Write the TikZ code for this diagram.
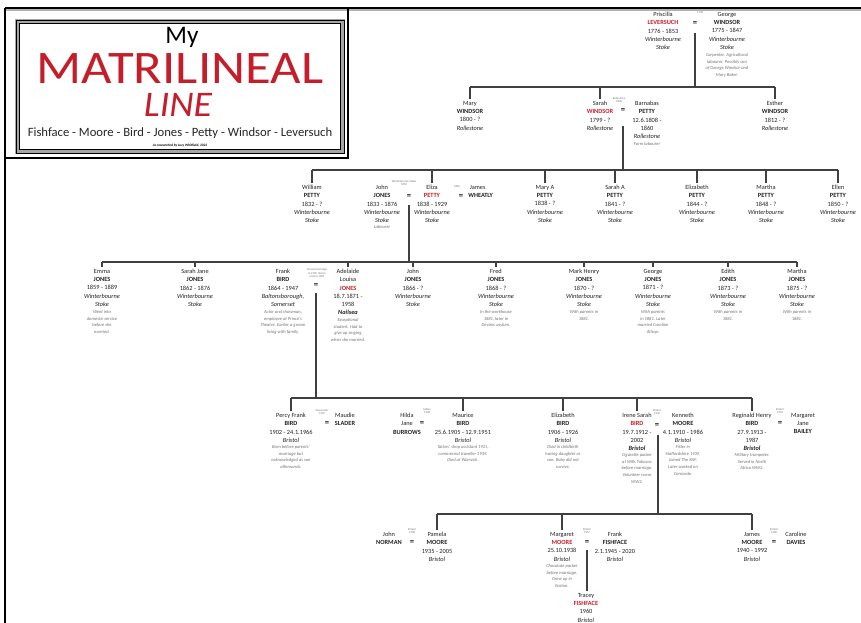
\documentclass[tikz,border=0pt]{standalone}
\usepackage{fontspec}
\setmainfont{Carlito}
\definecolor{redname}{RGB}{196,30,42}
\definecolor{txt}{RGB}{35,35,35}
\definecolor{notegray}{RGB}{115,115,115}
\newcommand{\rn}[1]{\textcolor{redname}{\textbf{#1}}}
\begin{document}
\begin{tikzpicture}[x=0.75pt,y=-0.75pt,
  person/.style={anchor=north, align=center, inner sep=0pt, font=\fontsize{4.75}{6.2}\selectfont, text=txt},
  pnote/.style={anchor=north, align=center, inner sep=0pt, font=\fontsize{3.4}{5}\selectfont\itshape, text=notegray},
  mlabel/.style={align=center, inner sep=0pt, font=\fontsize{2.2}{2.9}\selectfont, text=notegray},
  eqs/.style={inner sep=0pt, font=\fontsize{6.5}{7}\selectfont\bfseries, text=txt},
  conn/.style={draw=black!75, line width=0.8pt},
  bus/.style={draw=black!75, line width=1.1pt},
  frameline/.style={draw=black, line width=1.5pt}]
\useasboundingbox (0,0) rectangle (861,623);
\fill[white] (0,0) rectangle (861,623);
% page frame
\draw[gray!60, line width=1pt] (6,10) -- (861,10);
\draw[frameline] (5,8) -- (861,8);
\draw[frameline] (5,8) -- (5,623);
\draw[black, line width=0.8pt] (348,8) -- (348,158) -- (5,158);
% title box
\draw[gray!70, line width=2.5pt] (17,21) rectangle (343,152);
\draw[black, line width=0.6pt] (16,20) rectangle (344,153);
\draw[black, line width=0.5pt] (19.5,23.5) rectangle (340.5,149.5);
\node[anchor=base, inner sep=0pt, font=\fontsize{19}{21}\selectfont, text=black] (tmy) at (182,44) {My};
\node[anchor=base, inner sep=0pt, text depth=0pt, font=\fontsize{35}{37}\selectfont, text=redname] (tmat) at (180,84) {\scalebox{1.13}[1]{MATRILINEAL}};
\node[anchor=base, inner sep=0pt, text height=17.5pt, font=\fontsize{27}{29}\selectfont\itshape, text=redname] (tline) at (178,117) {\scalebox{1.05}[1]{LINE}};
\node[anchor=base, inner sep=0pt, font=\fontsize{9.5}{11}\selectfont, text=black!85] (tsub) at (180,137) {Fishface - Moore - Bird - Jones - Petty - Windsor - Leversuch};
\node[anchor=base, inner sep=0pt, font=\fontsize{2.6}{3}\selectfont\bfseries\itshape, text=black] (tcred) at (180,147) {As researched by Lucy Whitfield, 2022};

% ---------- Generation 1
\node[person] (pris) at (663,12) {Priscilla\\\rn{LEVERSUCH}\\1776 - 1853\\\textit{Winterbourne}\\\textit{Stoke}};
\node[person] (george) at (727,12) {George\\\textbf{WINDSOR}\\1775 - 1847\\\textit{Winterbourne}\\\textit{Stoke}};
\node[pnote] (georgeN) at (727,53) {Carpenter. Agricultural\\labourer. Possibly son\\of George Windsor and\\Mary Baker.};
\node[mlabel] (m1) at (700,13) {1798};
\node[eqs] (e1) at (695,24) {=};
\coordinate (b2) at (0,87);
\draw[conn] (e1.south |- 0,33) -- (e1.south |- b2);

% ---------- Generation 2
\node[person] (mary) at (470,101) {Mary\\\textbf{WINDSOR}\\1800 - ?\\\textit{Rollestone}};
\node[person] (sarah) at (600,101) {Sarah\\\rn{WINDSOR}\\1799 - ?\\\textit{Rollestone}};
\node[mlabel] (m2) at (619,100) {Rollestone\\1830};
\node[eqs] (e2) at (623,111) {=};
\node[person] (barn) at (647,101) {Barnabas\\\textbf{PETTY}\\12.6.1808 -\\1860\\\textit{Rollestone}};
\node[pnote] (barnN) at (647,142) {Farm labourer};
\node[person] (esther) at (775,101) {Esther\\\textbf{WINDSOR}\\1812 - ?\\\textit{Rollestone}};
\draw[bus] (mary.north |- b2) -- (esther.north |- b2);
\foreach \c in {mary,sarah,esther}{\draw[conn] ([yshift=1.2pt]\c.north) -- (\c.north |- b2);}
\coordinate (b3) at (0,170);
\draw[conn] (e2.south |- 0,126) -- (e2.south |- b3);

% ---------- Generation 3
\node[person] (will) at (312,185) {William\\\textbf{PETTY}\\1832 - ?\\\textit{Winterbourne}\\\textit{Stoke}};
\node[person] (john) at (382,185) {John\\\textbf{JONES}\\1833 - 1876\\\textit{Winterbourne}\\\textit{Stoke}};
\node[pnote] (johnN) at (382,225) {Labourer};
\node[mlabel] (m3) at (404,183) {Winterbourne Stoke\\1853};
\node[eqs] (e3) at (409,197) {=};
\node[person] (eliza) at (432,185) {Eliza\\\rn{PETTY}\\1838 - 1929\\\textit{Winterbourne}\\\textit{Stoke}};
\node[mlabel] (m3b) at (457,187) {1864};
\node[eqs] (e3b) at (461,197) {=};
\node[person, anchor=north west, align=left] (james) at (468,185) {\hspace{1.2pt}James\\\textbf{WHEATLY}};
\node[person] (marya) at (545,185) {Mary A\\\textbf{PETTY}\\1838 - ?\\\textit{Winterbourne}\\\textit{Stoke}};
\node[person] (saraha) at (615,185) {Sarah A\\\textbf{PETTY}\\1841 - ?\\\textit{Winterbourne}\\\textit{Stoke}};
\node[person] (eliz) at (697,185) {Elizabeth\\\textbf{PETTY}\\1844 - ?\\\textit{Winterbourne}\\\textit{Stoke}};
\node[person] (martha) at (766,185) {Martha\\\textbf{PETTY}\\1848 - ?\\\textit{Winterbourne}\\\textit{Stoke}};
\node[person] (ellen) at (838,185) {Ellen\\\textbf{PETTY}\\1850 - ?\\\textit{Winterbourne}\\\textit{Stoke}};
\draw[bus] (will.north |- b3) -- (ellen.north |- b3);
\foreach \c in {will,eliza,marya,saraha,eliz,martha,ellen}{\draw[conn] ([yshift=1.2pt]\c.north) -- (\c.north |- b3);}
\coordinate (b4) at (0,262);
\draw[conn] (e3.south |- 0,205) -- (e3.south |- b4);

% ---------- Generation 4
\node[person] (emma) at (102,269) {Emma\\\textbf{JONES}\\1859 - 1889\\\textit{Winterbourne}\\\textit{Stoke}};
\node[pnote] (emmaN) at (102,310) {Went into\\domestic service\\before she\\married.};
\node[person] (sjane) at (195,269) {Sarah Jane\\\textbf{JONES}\\1862 - 1876\\\textit{Winterbourne}\\\textit{Stoke}};
\node[person] (frank) at (283,269) {Frank\\\textbf{BIRD}\\1864 - 1947\\\textit{Baltonsborough,}\\\textit{Somerset}};
\node[pnote] (frankN) at (283,310) {Actor and showman,\\employee at Prince's\\Theatre. Earlier a groom\\living with family.};
\node[mlabel] (m4) at (317,273) {Second marriage\\in 1902. Banns\\read in 1901};
\node[eqs] (e4) at (316,286) {=};
\node[person] (adel) at (348,269) {Adelaide\\Louisa\\\rn{JONES}\\18.7.1871 -\\1958\\\textbf{\textit{Nailsea}}};
\node[pnote] (adelN) at (348,318) {Exceptional\\student. Had to\\give up singing\\when she married.};
\node[person] (john2) at (413,269) {John\\\textbf{JONES}\\1866 - ?\\\textit{Winterbourne}\\\textit{Stoke}};
\node[person] (fred) at (496,269) {Fred\\\textbf{JONES}\\1868 - ?\\\textit{Winterbourne}\\\textit{Stoke}};
\node[pnote] (fredN) at (496,310) {In the workhouse\\1881, later in\\Devizes asylum.};
\node[person] (mark) at (584,269) {Mark Henry\\\textbf{JONES}\\1870 - ?\\\textit{Winterbourne}\\\textit{Stoke}};
\node[pnote] (markN) at (584,310) {With parents in\\1881.};
\node[person] (george2) at (653,269) {George\\\textbf{JONES}\\1871 - ?\\\textit{Winterbourne}\\\textit{Stoke}};
\node[pnote] (george2N) at (653,310) {With parents\\in 1881. Later\\married Caroline\\Allsop.};
\node[person] (edith) at (728,269) {Edith\\\textbf{JONES}\\1873 - ?\\\textit{Winterbourne}\\\textit{Stoke}};
\node[pnote] (edithN) at (728,310) {With parents in\\1881.};
\node[person] (martha2) at (797,269) {Martha\\\textbf{JONES}\\1875 - ?\\\textit{Winterbourne}\\\textit{Stoke}};
\node[pnote] (martha2N) at (797,310) {With parents in\\1881.};
\draw[bus] (emma.north |- b4) -- (martha2.north |- b4);
\foreach \c in {emma,sjane,adel,john2,fred,mark,george2,edith,martha2}{\draw[conn] ([yshift=1.2pt]\c.north) -- (\c.north |- b4);}
\coordinate (b5) at (0,398);
\draw[conn] (e4.south |- 0,293) -- (e4.south |- b5);

% ---------- Generation 5
\node[person] (percy) at (291,413) {Percy Frank\\\textbf{BIRD}\\1902 - 24.1.1966\\\textit{Bristol}};
\node[pnote] (percyN) at (291,445) {Born before parents'\\marriage but\\acknowledged as son\\afterwards.};
\node[mlabel] (m5a) at (322,412) {Gloucester\\1929};
\node[eqs] (e5a) at (327,424) {=};
\node[person] (maudie) at (345,413) {Maudie\\\textbf{SLADER}};
\node[person] (hilda) at (407,413) {Hilda\\Jane\\\textbf{BURROWS}};
\node[mlabel] (m5b) at (427,411) {Ashley\\1928};
\node[eqs] (e5b) at (422,424) {=};
\node[person] (maurice) at (463,413) {Maurice\\\textbf{BIRD}\\25.6.1905 - 12.9.1951\\\textit{Bristol}};
\node[pnote] (mauriceN) at (463,445) {Tailors' shop assistant 1921,\\commercial traveller 1939.\\Died at Warwick.};
\node[person] (eliz2) at (563,413) {Elizabeth\\\textbf{BIRD}\\1906 - 1926\\\textit{Bristol}};
\node[pnote] (eliz2N) at (563,445) {Died in childbirth\\having daughter or\\son. Baby did not\\survive.};
\node[person] (irene) at (637,413) {Irene Sarah\\\rn{BIRD}\\19.7.1912 -\\2002\\\textbf{\textit{Bristol}}};
\node[pnote] (ireneN) at (637,453) {Cigarette packer\\at Wills Tobacco\\before marriage.\\Volunteer nurse\\WW2.};
\node[mlabel] (m5c) at (657,412) {Bristol\\1932};
\node[eqs] (e5c) at (657,426) {=};
\node[person] (kenneth) at (683,413) {Kenneth\\\textbf{MOORE}\\4.1.1910 - 1986\\\textit{Bristol}};
\node[pnote] (kennethN) at (683,445) {Fitter in\\Staffordshire 1939.\\Joined The RAF.\\Later worked on\\Concorde.};
\node[person] (reg) at (752,413) {Reginald Henry\\\textbf{BIRD}\\27.9.1913 -\\1987\\\textbf{\textit{Bristol}}};
\node[pnote] (regN) at (752,453) {Military trumpeter.\\Served in North\\Africa WW2.};
\node[mlabel] (m5d) at (780,411) {Bristol\\1954};
\node[eqs] (e5d) at (780,424) {=};
\node[person] (mjane) at (803,413) {Margaret\\Jane\\\textbf{BAILEY}};
\draw[bus] (percy.north |- b5) -- (reg.north |- b5);
\foreach \c in {percy,maurice,eliz2,irene,reg}{\draw[conn] ([yshift=1.2pt]\c.north) -- (\c.north |- b5);}
\coordinate (b6) at (0,514);
\draw[conn] ([xshift=0.75pt]e5c.south |- 0,435) -- ([xshift=0.75pt]e5c.south |- b6);

% ---------- Generation 6
\node[person] (jnorman) at (389,532) {John\\\textbf{NORMAN}};
\node[mlabel] (m6a) at (412,531) {Bristol\\1958};
\node[eqs] (e6a) at (412,543) {=};
\node[person] (pamela) at (437,532) {Pamela\\\textbf{MOORE}\\1935 - 2005\\\textit{Bristol}};
\node[person] (margaret) at (562,532) {Margaret\\\rn{MOORE}\\25.10.1938\\\textit{Bristol}};
\node[pnote] (margaretN) at (562,564) {Chocolate packer\\before marriage.\\Grew up in\\Easton.};
\node[mlabel] (m6b) at (587,531) {Bristol\\1957};
\node[eqs] (e6b) at (587,543) {=};
\node[person] (ffrank) at (615,532) {Frank\\\textbf{FISHFACE}\\2.1.1945 - 2020\\\textit{Bristol}};
\node[person] (tracey) at (586,593) {Tracey\\\rn{FISHFACE}\\1960\\\textit{Bristol}};
\node[person] (jamesM) at (752,532) {James\\\textbf{MOORE}\\1940 - 1992\\\textit{Bristol}};
\node[mlabel] (m6c) at (774,531) {Bristol\\1960};
\node[eqs] (e6c) at (774,543) {=};
\node[person] (caroline) at (796,532) {Caroline\\\textbf{DAVIES}};
\draw[bus] (pamela.north |- b6) -- (jamesM.north |- b6);
\foreach \c in {pamela,margaret,jamesM}{\draw[conn] ([yshift=1.2pt]\c.north) -- (\c.north |- b6);}
\draw[conn] (e6b.south |- 0,550) -- ([yshift=1.2pt]e6b.south |- tracey.north);
\end{tikzpicture}
\end{document}
